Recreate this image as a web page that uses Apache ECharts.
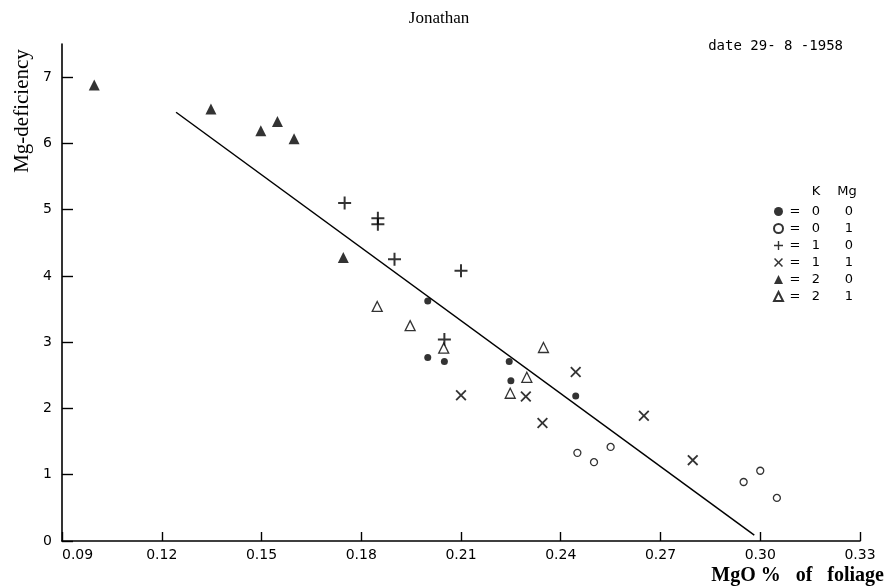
<!DOCTYPE html>
<html><head><meta charset="utf-8">
<script src="https://cdn.jsdelivr.net/npm/echarts@6/dist/echarts.min.js"></script>
<style>html,body{margin:0;padding:0;background:#fff}#c{width:886px;height:588px}</style>
</head><body><div id="c"></div>
<script>
// ---- data ----
const titleText = 'Jonathan';
const dateText = 'date 29- 8 -1958';
const xTicks = [0.09, 0.12, 0.15, 0.18, 0.21, 0.24, 0.27, 0.30, 0.33];
const yTicks = [0, 1, 2, 3, 4, 5, 6, 7];
// K=0 Mg=0 : filled circle
const k0mg0 = [[0.200,3.62],[0.200,2.77],[0.205,2.71],[0.2245,2.71],[0.225,2.42],[0.2445,2.19]];
// K=0 Mg=1 : open circle
const k0mg1 = [[0.245,1.33],[0.250,1.19],[0.255,1.42],[0.295,0.89],[0.300,1.06],[0.305,0.65]];
// K=1 Mg=0 : plus
const k1mg0 = [[0.175,5.10],[0.185,4.87],[0.185,4.78],[0.190,4.25],[0.210,4.08],[0.205,3.04]];
// K=1 Mg=1 : cross
const k1mg1 = [[0.210,2.20],[0.2295,2.18],[0.2345,1.78],[0.2445,2.55],[0.265,1.89],[0.2797,1.22]];
// K=2 Mg=0 : filled triangle
const k2mg0 = [[0.0997,6.88],[0.1348,6.52],[0.1498,6.19],[0.1548,6.33],[0.1598,6.07],[0.1746,4.28]];
// K=2 Mg=1 : open triangle
const k2mg1 = [[0.1848,3.54],[0.1947,3.25],[0.2048,2.91],[0.2348,2.92],[0.2298,2.47],[0.2248,2.23]];
// fitted line endpoints
const fitLine = [[0.1243,6.47],[0.2982,0.09]];
const legendRows = [
  {name:'k0mg0', k:'0', mg:'0'},
  {name:'k0mg1', k:'0', mg:'1'},
  {name:'k1mg0', k:'1', mg:'0'},
  {name:'k1mg1', k:'1', mg:'1'},
  {name:'k2mg0', k:'2', mg:'0'},
  {name:'k2mg1', k:'2', mg:'1'}
];

const plusPath = 'path://M0,5.5 H13 V7.5 H0 Z M5.5,0 H7.5 V13 H5.5 Z';
const crossPath = 'path://M0,1.4 L1.4,0 L6,4.6 L10.6,0 L12,1.4 L7.4,6 L12,10.6 L10.6,12 L6,7.4 L1.4,12 L0,10.6 L4.6,6 Z';
const sansFont = 'DejaVu Sans';
const serifFont = 'Liberation Serif';

const chart = echarts.init(document.getElementById('c'), null, {renderer:'canvas'});
const rowMap = {}; legendRows.forEach(r => rowMap[r.name] = r);

function sc(name, data, symbol, size, style) {
  return {type:'scatter', name, data, symbol, symbolSize:size,
    itemStyle:style, emphasis:{disabled:true}, z:3};
}

chart.setOption({
  animation:false,
  backgroundColor:'#fff',
  title:{text:titleText, left:434, top:5, textAlign:'center',
    textStyle:{fontFamily:serifFont, fontSize:17, fontWeight:'normal', color:'#000'}},
  grid:{left:62, right:26, top:44, bottom:47},
  xAxis:{type:'value', min:0.09, max:0.33, interval:0.03,
    axisLine:{lineStyle:{color:'#000', width:1.6}},
    axisTick:{inside:true, length:9, lineStyle:{color:'#000', width:1.4}},
    axisLabel:{formatter:v=>v.toFixed(2), fontFamily:sansFont, fontSize:14, color:'#000', margin:7, alignMinLabel:'left'},
    splitLine:{show:false}},
  yAxis:{type:'value', min:0, max:7.5, interval:1,
    axisLine:{lineStyle:{color:'#000', width:1.6}},
    axisTick:{inside:true, length:11, lineStyle:{color:'#000', width:1.4}, customValues:yTicks},
    axisLabel:{fontFamily:sansFont, fontSize:14, color:'#000', margin:10, customValues:yTicks},
    splitLine:{show:false}},
  legend:{orient:'vertical', left:773, top:205, itemWidth:9, itemHeight:9, itemGap:4, padding:0,
    data:legendRows.map(r=>r.name), selectedMode:false,
    formatter: n => `{e|=}{k|${rowMap[n].k}}{m|${rowMap[n].mg}}`,
    textStyle:{fontFamily:sansFont, fontSize:13, color:'#000', lineHeight:13,
      rich:{e:{width:14, align:'center', lineHeight:13}, k:{width:28, align:'center', lineHeight:13}, m:{width:38, align:'center', lineHeight:13}}}},
  graphic:[
    {type:'text', x:843, y:46, style:{text:dateText, fontFamily:'DejaVu Sans Mono', fontSize:14, fill:'#000', align:'right', verticalAlign:'middle'}},
    {type:'text', x:816, y:192, style:{text:'K', fontFamily:sansFont, fontSize:13, fill:'#000', align:'center', verticalAlign:'middle'}},
    {type:'text', x:847, y:192, style:{text:'Mg', fontFamily:sansFont, fontSize:13, fill:'#000', align:'center', verticalAlign:'middle'}},
    {type:'text', x:22, y:111, rotation:Math.PI/2, style:{text:'Mg-deficiency', fontFamily:serifFont, fontSize:21, fill:'#000', align:'center', verticalAlign:'middle'}},
    {type:'text', x:884, y:576, style:{text:'MgO %   of   foliage', fontFamily:serifFont, fontSize:20, fontWeight:'bold', fill:'#000', align:'right', verticalAlign:'middle'}}
  ],
  series:[
    {type:'line', data:fitLine, symbol:'none', lineStyle:{color:'#000', width:1.5}, z:2, silent:true},
    sc('k0mg0', k0mg0, 'circle', 7, {color:'#000'}),
    sc('k0mg1', k0mg1, 'circle', 7, {color:'#fff', borderColor:'#000', borderWidth:1.3}),
    sc('k1mg0', k1mg0, plusPath, 13, {color:'#000'}),
    sc('k1mg1', k1mg1, crossPath, 11, {color:'#000'}),
    sc('k2mg0', k2mg0, 'triangle', 11, {color:'#000'}),
    sc('k2mg1', k2mg1, 'triangle', 10, {color:'#fff', borderColor:'#000', borderWidth:1.3})
  ]
});
</script>
</body></html>
